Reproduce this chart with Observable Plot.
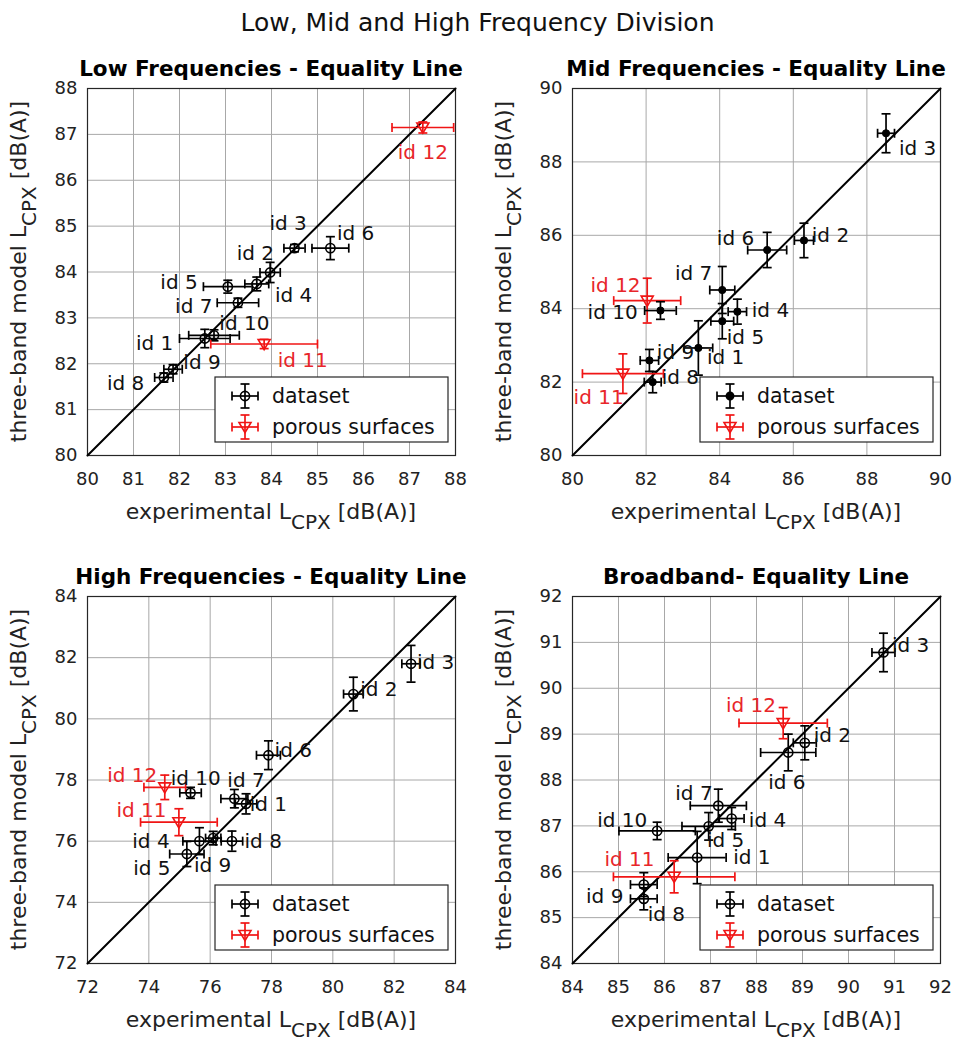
<!DOCTYPE html>
<html><head><meta charset="utf-8">
<script src="https://cdn.jsdelivr.net/npm/d3@7"></script>
<script src="https://cdn.jsdelivr.net/npm/@observablehq/plot@0.6"></script>
<style>
body{margin:0;background:#fff;overflow:hidden;}
#fig{position:relative;width:955px;height:1040px;font-family:"DejaVu Sans",sans-serif;color:#111;}
.title{position:absolute;left:0;width:955px;text-align:center;font-size:25px;top:8px;line-height:30px;}
.panel{position:absolute;}
</style></head><body><div id="fig"><div class="title">Low, Mid and High Frequency Division</div></div>
<script>
// ---------- data ----------
const ids = ["id 1","id 2","id 3","id 4","id 5","id 6","id 7","id 8","id 9","id 10","id 11","id 12"];
const porousIds = ["id 11","id 12"];
const legendNames = ["dataset","porous surfaces"];

// Low frequencies
const lowX    = [82.55, 83.97, 84.50, 83.68, 83.05, 85.28, 83.27, 81.66, 81.86, 82.75, 83.84, 87.29];
const lowY    = [82.55, 83.99, 84.52, 83.74, 83.68, 84.52, 83.33, 81.70, 81.88, 82.62, 82.43, 87.15];
const lowXErr = [0.55, 0.22, 0.23, 0.26, 0.53, 0.40, 0.45, 0.20, 0.20, 0.55, 1.16, 0.67];
const lowYErr = [0.20, 0.22, 0.08, 0.15, 0.14, 0.25, 0.10, 0.10, 0.10, 0.12, 0.10, 0.12];
const lowLabX = [81.46, 83.65, 84.36, 84.48, 81.99, 85.83, 82.31, 80.83, 82.49, 83.41, 84.68, 87.29];
const lowLabY = [82.45, 84.40, 85.05, 83.48, 83.77, 84.83, 83.24, 81.56, 82.02, 82.87, 82.06, 86.60];

// Mid frequencies
const midX    = [83.42, 86.29, 88.52, 84.48, 84.07, 85.29, 84.07, 82.18, 82.09, 82.39, 81.37, 82.03];
const midY    = [82.93, 85.86, 88.78, 83.92, 83.66, 85.60, 84.51, 82.00, 82.59, 83.95, 82.23, 84.22];
const midXErr = [0.39, 0.26, 0.23, 0.25, 0.31, 0.53, 0.34, 0.23, 0.25, 0.43, 1.10, 0.91];
const midYErr = [0.74, 0.47, 0.53, 0.34, 0.48, 0.48, 0.64, 0.29, 0.30, 0.24, 0.54, 0.61];
const midLabX = [84.16, 87.01, 89.38, 85.38, 84.70, 84.43, 83.29, 82.93, 82.80, 81.09, 80.71, 81.17];
const midLabY = [82.67, 86.00, 88.37, 83.95, 83.22, 85.91, 84.96, 82.12, 82.80, 83.90, 81.58, 84.63];

// High frequencies
const highX    = [77.17, 80.67, 82.55, 75.65, 75.24, 77.90, 76.79, 76.71, 76.10, 75.36, 74.98, 74.52];
const highY    = [77.22, 80.81, 81.80, 76.00, 75.58, 78.81, 77.39, 76.00, 76.10, 77.58, 76.62, 77.76];
const highXErr = [0.35, 0.32, 0.30, 0.54, 0.56, 0.39, 0.44, 0.35, 0.25, 0.35, 1.25, 0.68];
const highYErr = [0.33, 0.55, 0.60, 0.44, 0.41, 0.47, 0.30, 0.33, 0.22, 0.18, 0.44, 0.40];
const highLabX = [77.90, 81.50, 83.35, 74.07, 74.10, 78.71, 77.17, 77.73, 76.08, 75.53, 73.76, 73.46];
const highLabY = [77.19, 80.96, 81.85, 75.97, 75.11, 78.95, 77.98, 75.97, 75.20, 78.03, 77.00, 78.14];

// Broadband
const broadX    = [86.71, 89.05, 90.76, 87.46, 86.96, 88.69, 87.17, 85.55, 85.55, 85.84, 86.21, 88.58];
const broadY    = [86.31, 88.81, 90.78, 87.16, 86.99, 88.60, 87.44, 85.41, 85.72, 86.89, 85.89, 89.24];
const broadXErr = [0.63, 0.25, 0.25, 0.27, 0.58, 0.60, 0.61, 0.29, 0.29, 0.83, 1.32, 0.96];
const broadYErr = [0.57, 0.37, 0.42, 0.24, 0.30, 0.40, 0.36, 0.24, 0.26, 0.19, 0.35, 0.34];
const broadLabX = [87.90, 89.65, 91.35, 88.24, 87.33, 88.66, 86.64, 86.04, 84.70, 85.08, 85.24, 87.88];
const broadLabY = [86.31, 88.97, 90.93, 87.11, 86.67, 87.95, 87.70, 85.06, 85.46, 87.11, 86.27, 89.62];

const lowTicks = [80,81,82,83,84,85,86,87,88];
const midTicks = [80,82,84,86,88,90];
const highTicks = [72,74,76,78,80,82,84];
const broadTicks = [84,85,86,87,88,89,90,91,92];

// ---------- drawing ----------
const BLACK = "#000000", RED = "#f01515", RED_TEXT = "#e8262a";
const hcap = {draw(ctx, size){const r=Math.sqrt(size/Math.PI); ctx.moveTo(-r,0); ctx.lineTo(r,0);}};
const vcap = {draw(ctx, size){const r=Math.sqrt(size/Math.PI); ctx.moveTo(0,-r); ctx.lineTo(0,r);}};
const triDown = {draw(ctx, size){const r=Math.sqrt(size/Math.PI); ctx.moveTo(-r,-0.75*r); ctx.lineTo(r,-0.75*r); ctx.lineTo(0,0.95*r); ctx.closePath();}};

const fig = document.getElementById("fig");
const W = 368, H = 367, mL = 87, mR = 12, mT = 40, mB = 76;

function panel(cfg){
  const {title, ticks, xs, ys, exs, eys, lx, ly, filled, left, top} = cfg;
  const domain = [ticks[0], ticks[ticks.length-1]];
  const rows = ids.map((id,i)=>({id, x:xs[i], y:ys[i], ex:exs[i], ey:eys[i], lx:lx[i], ly:ly[i], porous: porousIds.includes(id)}));
  const col = d => d.porous ? RED : BLACK;
  const data = rows.filter(d=>!d.porous), por = rows.filter(d=>d.porous);
  const plot = Plot.plot({
    width: W+mL+mR, height: H+mT+mB,
    marginLeft: mL, marginRight: mR, marginTop: mT, marginBottom: mB,
    style: {fontFamily: "DejaVu Sans", fontSize: "18px", color: "#222", background: "transparent", overflow: "visible"},
    x: {domain, label: null},
    y: {domain, label: null},
    color: {type: "identity"},
    marks: [
      Plot.gridX(ticks, {stroke: "#a8a8a8", strokeOpacity: 1, strokeWidth: 1}),
      Plot.gridY(ticks, {stroke: "#a8a8a8", strokeOpacity: 1, strokeWidth: 1}),
      Plot.axisX(ticks, {tickSize: 0, tickPadding: 17, label: null, tickFormat: d => String(d)}),
      Plot.axisY(ticks, {tickSize: 0, tickPadding: 10, label: null, tickFormat: d => String(d)}),
      Plot.frame({stroke: "#262626", strokeWidth: 1.2}),
      Plot.line(domain.map(v => [v, v]), {stroke: BLACK, strokeWidth: 2}),
      Plot.ruleX(rows, {x: "x", y1: d => d.y - d.ey, y2: d => d.y + d.ey, stroke: col, strokeWidth: 1.7}),
      Plot.ruleY(rows, {y: "y", x1: d => d.x - d.ex, x2: d => d.x + d.ex, stroke: col, strokeWidth: 1.7}),
      Plot.dot(rows, {x: "x", y: d => d.y - d.ey, symbol: hcap, r: 4.5, stroke: col, strokeWidth: 1.7}),
      Plot.dot(rows, {x: "x", y: d => d.y + d.ey, symbol: hcap, r: 4.5, stroke: col, strokeWidth: 1.7}),
      Plot.dot(rows, {x: d => d.x - d.ex, y: "y", symbol: vcap, r: 4.5, stroke: col, strokeWidth: 1.7}),
      Plot.dot(rows, {x: d => d.x + d.ex, y: "y", symbol: vcap, r: 4.5, stroke: col, strokeWidth: 1.7}),
      filled
        ? Plot.dot(data, {x: "x", y: "y", r: 3.6, fill: BLACK, stroke: BLACK, strokeWidth: 1})
        : Plot.dot(data, {x: "x", y: "y", r: 4.6, fill: "none", stroke: BLACK, strokeWidth: 1.6}),
      Plot.dot(por, {x: "x", y: "y", symbol: triDown, r: 6, fill: "none", stroke: RED, strokeWidth: 1.6}),
      Plot.text(rows, {x: "lx", y: "ly", text: "id", fill: d => d.porous ? RED_TEXT : "#111", fontSize: 20, textAnchor: "middle", lineAnchor: "middle"})
    ]
  });
  plot.classList.add("panel");
  plot.style.left = (left - mL) + "px";
  plot.style.top = (top - mT) + "px";
  const svg = d3.select(plot);
  // title
  svg.append("text").attr("x", mL + W/2).attr("y", mT - 12).attr("text-anchor", "middle")
    .attr("font-weight", "bold").attr("font-size", "21.5px").attr("fill", "#000").text(title);
  // x label
  const xl = svg.append("text").attr("x", mL + W/2).attr("y", mT + H + 64).attr("text-anchor", "middle")
    .attr("font-size", "22px").attr("fill", "#222");
  xl.append("tspan").text("experimental L");
  xl.append("tspan").attr("dy", 10).attr("font-size", "20px").text("CPX");
  xl.append("tspan").attr("dy", -10).text(" [dB(A)]");
  // y label
  const yl = svg.append("text").attr("transform", `translate(${mL - 61},${mT + H/2}) rotate(-90)`)
    .attr("text-anchor", "middle").attr("font-size", "22px").attr("fill", "#222");
  yl.append("tspan").text("three-band model L");
  yl.append("tspan").attr("dy", 10).attr("font-size", "20px").text("CPX");
  yl.append("tspan").attr("dy", -10).text(" [dB(A)]");
  // legend
  const lgX = mL + 128, lgY = mT + H - 78, lgW = 233, lgH = 65;
  const g = svg.append("g");
  g.append("rect").attr("x", lgX).attr("y", lgY).attr("width", lgW).attr("height", lgH)
    .attr("fill", "#fff").attr("stroke", "#262626").attr("stroke-width", 1.2);
  legendNames.forEach((name, i) => {
    const cy = lgY + (i === 0 ? 19 : 50), cx = lgX + 30, c = i === 0 ? BLACK : RED;
    const e = g.append("g").attr("stroke", c).attr("stroke-width", 1.7).attr("fill", "none");
    e.append("line").attr("x1", cx - 13).attr("x2", cx + 13).attr("y1", cy).attr("y2", cy);
    e.append("line").attr("x1", cx - 13).attr("x2", cx - 13).attr("y1", cy - 4.5).attr("y2", cy + 4.5);
    e.append("line").attr("x1", cx + 13).attr("x2", cx + 13).attr("y1", cy - 4.5).attr("y2", cy + 4.5);
    e.append("line").attr("x1", cx).attr("x2", cx).attr("y1", cy - 12).attr("y2", cy + 12);
    e.append("line").attr("x1", cx - 4.5).attr("x2", cx + 4.5).attr("y1", cy - 12).attr("y2", cy - 12);
    e.append("line").attr("x1", cx - 4.5).attr("x2", cx + 4.5).attr("y1", cy + 12).attr("y2", cy + 12);
    if (i === 0) {
      if (filled) e.append("circle").attr("cx", cx).attr("cy", cy).attr("r", 3.6).attr("fill", BLACK);
      else e.append("circle").attr("cx", cx).attr("cy", cy).attr("r", 4.6).attr("stroke-width", 1.6);
    } else {
      const r = 6;
      e.append("path").attr("d", `M${cx - r},${cy - 0.75*r}L${cx + r},${cy - 0.75*r}L${cx},${cy + 0.95*r}Z`).attr("stroke-width", 1.6);
    }
    g.append("text").attr("x", lgX + 57).attr("y", cy).attr("text-anchor", "start").attr("dominant-baseline", "central")
      .attr("font-size", "20.5px").attr("fill", "#111").text(name);
  });
  fig.appendChild(plot);
}

panel({title: "Low Frequencies - Equality Line", ticks: lowTicks, xs: lowX, ys: lowY, exs: lowXErr, eys: lowYErr, lx: lowLabX, ly: lowLabY, filled: false, left: 87, top: 88});
panel({title: "Mid Frequencies - Equality Line", ticks: midTicks, xs: midX, ys: midY, exs: midXErr, eys: midYErr, lx: midLabX, ly: midLabY, filled: true, left: 572, top: 88});
panel({title: "High Frequencies - Equality Line", ticks: highTicks, xs: highX, ys: highY, exs: highXErr, eys: highYErr, lx: highLabX, ly: highLabY, filled: false, left: 87, top: 596});
panel({title: "Broadband- Equality Line", ticks: broadTicks, xs: broadX, ys: broadY, exs: broadXErr, eys: broadYErr, lx: broadLabX, ly: broadLabY, filled: false, left: 572, top: 596});
</script></body></html>
